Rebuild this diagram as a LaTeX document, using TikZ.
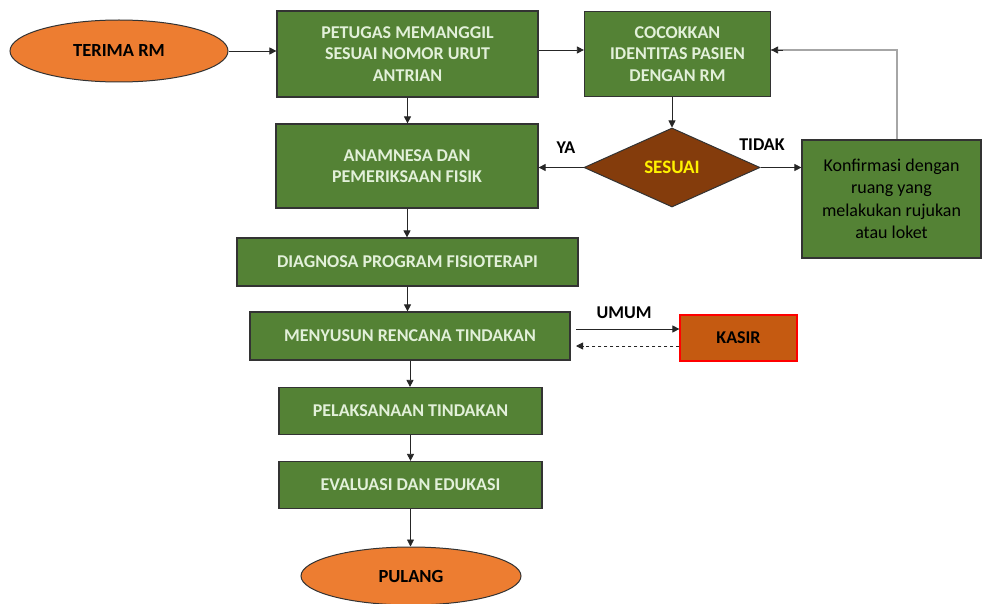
\documentclass[tikz,border=0pt]{standalone}
\usepackage{fontspec}
\setmainfont{Carlito}
\usetikzlibrary{shapes.geometric,arrows.meta}
\definecolor{boxgreen}{HTML}{548235}
\definecolor{boxtext}{HTML}{E2F0D9}
\definecolor{ovalorange}{HTML}{ED7D31}
\definecolor{diambrown}{HTML}{843C0C}
\definecolor{kasirfill}{HTML}{C55A11}
\definecolor{fbgray}{HTML}{A6A6A6}
\tikzset{
  gbox/.style={rectangle, draw=black!80, line width=1.2pt, fill=boxgreen, text=boxtext,
    font=\bfseries\fontsize{18}{21.5}\selectfont, align=center, inner sep=2pt},
  oval/.style={ellipse, draw=black!80, line width=1pt, fill=ovalorange, text=black,
    font=\bfseries\fontsize{18.5}{21}\selectfont, inner sep=0pt},
  conn/.style={draw=black!85, line width=0.8pt, -{Triangle[length=7pt,width=7pt]}},
  lbl/.style={font=\bfseries\fontsize{18}{20}\selectfont, text=black}
}
\begin{document}
\begin{tikzpicture}[x=1pt,y=-1pt]
\useasboundingbox (0,0) rectangle (984,604);
\fill[white] (0,0) rectangle (984,604);

\node[oval, minimum width=218, minimum height=62] (terima) at (119,51) {TERIMA RM};
\node[gbox, minimum width=261, minimum height=86] (petugas) at (407.5,54) {PETUGAS MEMANGGIL\\SESUAI NOMOR URUT\\ANTRIAN};
\node[gbox, minimum width=186, minimum height=85] (cocok) at (677.5,54) {COCOKKAN\\IDENTITAS PASIEN\\DENGAN RM};
\node[gbox, minimum width=262, minimum height=84] (anam) at (407,166) {ANAMNESA DAN\\PEMERIKSAAN FISIK};
\node[diamond, draw=black!80, line width=1pt, fill=diambrown, text=yellow,
  font=\bfseries\fontsize{19}{20}\selectfont, inner sep=0pt, shape aspect=2.2,
  minimum width=176, minimum height=79] (sesuai) at (672,167.5) {SESUAI};
\node[gbox, text=black, font=\fontsize{18}{22.5}\selectfont, minimum width=179, minimum height=118] (konf) at (891.5,199) {Konfirmasi dengan\\ruang yang\\melakukan rujukan\\atau loket};
\node[gbox, minimum width=341, minimum height=48] (diag) at (407.5,262) {DIAGNOSA PROGRAM FISIOTERAPI};
\node[gbox, minimum width=320, minimum height=48] (susun) at (410,336) {MENYUSUN RENCANA TINDAKAN};
\node[rectangle, draw=red, line width=1.2pt, fill=kasirfill, text=black,
  font=\bfseries\fontsize{18}{20}\selectfont, minimum width=117, minimum height=46] (kasir) at (738.5,338) {KASIR};
\node[gbox, minimum width=263, minimum height=47] (laksana) at (410.5,411) {PELAKSANAAN TINDAKAN};
\node[gbox, minimum width=263, minimum height=47] (eval) at (410.5,485) {EVALUASI DAN EDUKASI};
\node[oval, minimum width=220, minimum height=58] (pulang) at (411,576) {PULANG};

\coordinate (fbx) at (897,0);
\coordinate (toprow) at (0,50);
\coordinate (umumstart) at (576,329);
\coordinate (dashend) at (576,346);

\draw[conn] (terima.east) -- (terima.east -| petugas.west);
\draw[conn] (petugas.east |- toprow) -- (cocok.west |- toprow);
\draw[conn] (petugas.south) -- (petugas.south |- anam.north);
\draw[conn] (cocok.south -| sesuai.north) -- (sesuai.north);
\draw[conn] (sesuai.west) -- (sesuai.west -| anam.east);
\draw[conn] (sesuai.east) -- (sesuai.east -| konf.west);
\draw[draw=fbgray, line width=1.5pt] (konf.north -| fbx) |- (cocok.east |- toprow);
\draw[conn] ([xshift=12]cocok.east |- toprow) -- (cocok.east |- toprow);
\draw[conn] (anam.south) -- (anam.south |- diag.north);
\draw[conn] (diag.south) -- (diag.south |- susun.north);
\draw[conn] (umumstart) -- (umumstart -| kasir.west);
\draw[conn, dashed] (dashend -| kasir.west) -- (dashend);
\draw[conn] (susun.south) -- (susun.south |- laksana.north);
\draw[conn] (laksana.south) -- (laksana.south |- eval.north);
\draw[conn] (eval.south) -- (eval.south |- pulang.north);

\node[lbl] (ya) at (566,148) {YA};
\node[lbl] (tidak) at (762,145) {TIDAK};
\node[lbl] (umum) at (624,313) {UMUM};
\end{tikzpicture}
\end{document}
